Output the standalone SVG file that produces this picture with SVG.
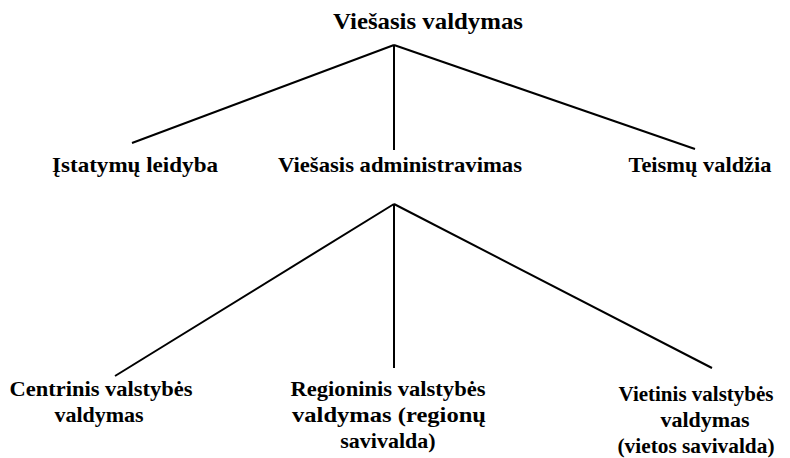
<svg xmlns="http://www.w3.org/2000/svg" width="790" height="458" viewBox="0 0 790 458">
  <style>
    .lbl { font-family: "Liberation Serif", serif; font-weight: bold; fill: #000; text-anchor: middle; font-size: 22px; }
    .t1 { font-size: 24px; }
    .edge { stroke: #000; stroke-width: 2; fill: none; stroke-linecap: butt; }
  </style>
  <rect width="790" height="458" fill="#fff"/>

  <!-- tree branches -->
  <g id="connectors">
    <line class="edge" x1="394" y1="45" x2="132" y2="143"/>
    <line class="edge" x1="394" y1="45" x2="394" y2="150"/>
    <line class="edge" x1="394" y1="45" x2="695" y2="149"/>
    <line class="edge" x1="394" y1="204" x2="115" y2="376"/>
    <line class="edge" x1="394" y1="204" x2="394" y2="368"/>
    <line class="edge" x1="394" y1="204" x2="712" y2="368"/>
  </g>

  <g id="root">
    <text class="lbl t1" x="428" y="29" textLength="190" lengthAdjust="spacingAndGlyphs">Viešasis valdymas</text>
  </g>
  <g id="istatymu-leidyba">
    <text class="lbl" x="135" y="172" textLength="166" lengthAdjust="spacingAndGlyphs">Įstatymų leidyba</text>
  </g>
  <g id="viesasis-administravimas">
    <text class="lbl" x="400" y="172" textLength="244" lengthAdjust="spacingAndGlyphs">Viešasis administravimas</text>
  </g>
  <g id="teismu-valdzia">
    <text class="lbl" x="700" y="172" textLength="143" lengthAdjust="spacingAndGlyphs">Teismų valdžia</text>
  </g>
  <g id="centrinis">
    <text class="lbl" x="101" y="396" textLength="183" lengthAdjust="spacingAndGlyphs">Centrinis valstybės</text>
    <text class="lbl" x="99" y="422">valdymas</text>
  </g>
  <g id="regioninis">
    <text class="lbl" x="388" y="396" textLength="195" lengthAdjust="spacingAndGlyphs">Regioninis valstybės</text>
    <text class="lbl" x="389" y="422" textLength="194" lengthAdjust="spacingAndGlyphs">valdymas (regionų</text>
    <text class="lbl" x="388" y="448">savivalda)</text>
  </g>
  <g id="vietinis">
    <text class="lbl" x="696" y="401" textLength="155" lengthAdjust="spacingAndGlyphs">Vietinis valstybės</text>
    <text class="lbl" x="705" y="427">valdymas</text>
    <text class="lbl" x="696" y="453" textLength="157" lengthAdjust="spacingAndGlyphs">(vietos savivalda)</text>
  </g>
</svg>
